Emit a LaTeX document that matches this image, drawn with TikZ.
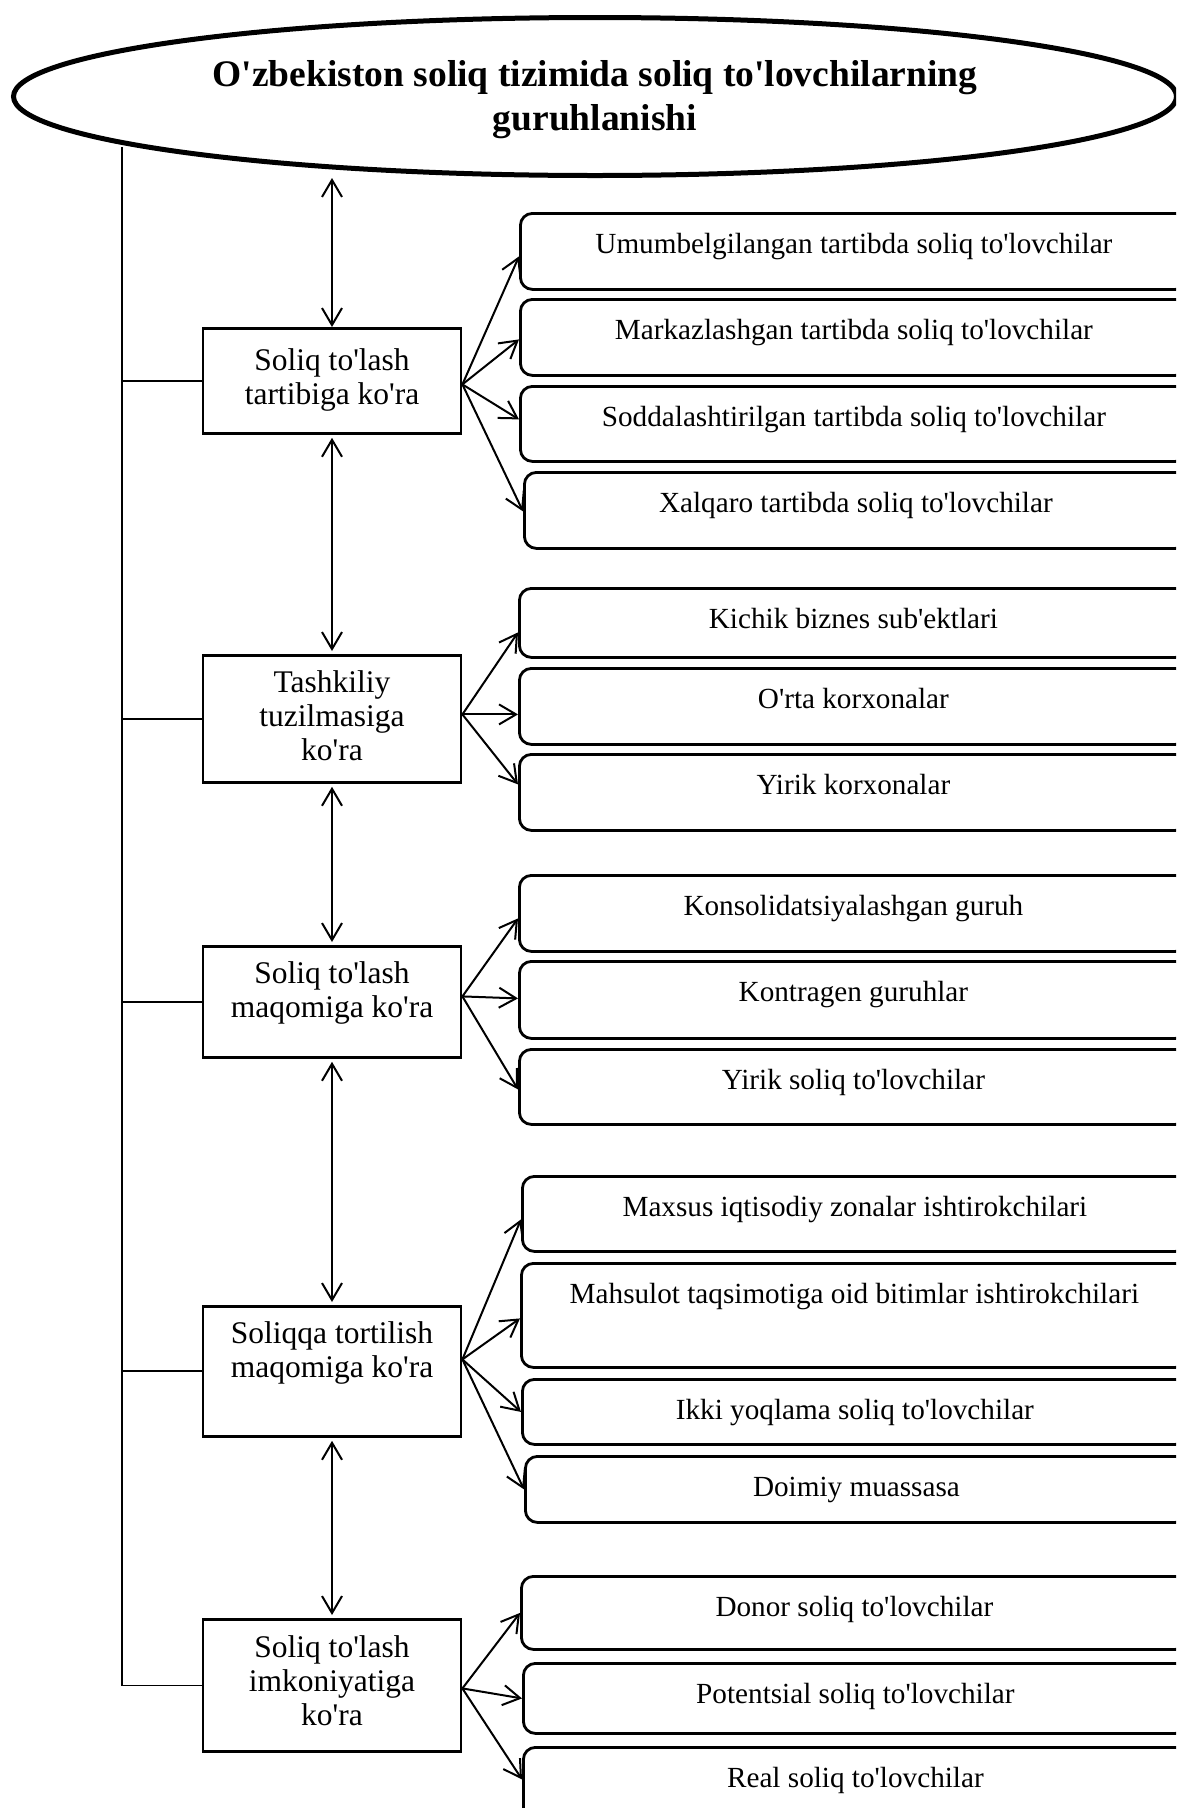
\documentclass[tikz,border=0pt]{standalone}
\usepackage{fontspec}
\setmainfont{Liberation Serif}[Ligatures=TeXOff]
\usetikzlibrary{arrows.meta,shapes.geometric}
\begin{document}
\begin{tikzpicture}[x=1pt,y=-1pt,
  conn/.style={line width=2pt,-{Straight Barb[length=17pt,width=20pt]}},
  dconn/.style={line width=2pt,{Straight Barb[length=17pt,width=20pt]}-{Straight Barb[length=17pt,width=20pt]}},
  mainbox/.style={draw,line width=2.8pt,anchor=north,minimum width=258pt,inner xsep=0pt,inner ysep=0pt,font=\fontsize{31.5}{34}\selectfont},
  subbox/.style={draw,line width=2.8pt,rounded corners=12pt,anchor=north west,inner xsep=0pt,inner ysep=0pt,font=\fontsize{29.2}{34}\selectfont,text height=40pt},
  trunk/.style={line width=1.6pt},
  branch/.style={line width=2pt}]
\useasboundingbox (0,0) rectangle (1176,1808);
\clip (0,0) rectangle (1176,1808);
\fill[white] (0,0) rectangle (1176,1808);

% title ellipse
\node[ellipse,draw,line width=5pt,minimum width=1163pt,minimum height=158pt,inner sep=0pt,
      font=\bfseries\fontsize{37.5}{44}\selectfont,text height=23pt,text depth=44pt] (e) at (595,96.5)
  {\parbox[t]{780pt}{\centering O'zbekiston soliq tizimida soliq to'lovchilarning\\guruhlanishi}};

% main category boxes
\node[mainbox,text height=42pt,text depth=63pt] (m1) at (332,327)
  {\parbox[t]{250pt}{\centering Soliq to'lash\\tartibiga ko'ra}};
\node[mainbox,text height=37pt,text depth=90pt] (m2) at (332,654)
  {\parbox[t]{250pt}{\centering Tashkiliy\\tuzilmasiga\\ko'ra}};
\node[mainbox,text height=37pt,text depth=74pt] (m3) at (332,945)
  {\parbox[t]{250pt}{\centering Soliq to'lash\\maqomiga ko'ra}};
\node[mainbox,text height=37pt,text depth=93pt] (m4) at (332,1305)
  {\parbox[t]{250pt}{\centering Soliqqa tortilish\\maqomiga ko'ra}};
\node[mainbox,text height=38pt,text depth=94pt] (m5) at (332,1618)
  {\parbox[t]{250pt}{\centering Soliq to'lash\\imkoniyatiga\\ko'ra}};

% sub boxes
\node[subbox,minimum width=667pt,text depth=36pt] (r11) at (519,212) {Umumbelgilangan tartibda soliq to'lovchilar};
\node[subbox,minimum width=667pt,text depth=36pt] (r12) at (519,298) {Markazlashgan tartibda soliq to'lovchilar};
\node[subbox,minimum width=667pt,text depth=35pt] (r13) at (519,385) {Soddalashtirilgan tartibda soliq to'lovchilar};
\node[subbox,minimum width=663pt,text depth=36pt] (r14) at (523,471) {Xalqaro tartibda soliq to'lovchilar};

\node[subbox,minimum width=668pt,text depth=29pt] (r21) at (518,587) {Kichik biznes sub'ektlari};
\node[subbox,minimum width=668pt,text depth=36pt] (r22) at (518,667) {O'rta korxonalar};
\node[subbox,minimum width=668pt,text depth=36pt] (r23) at (518,753) {Yirik korxonalar};

\node[subbox,minimum width=668pt,text depth=36pt] (r31) at (518,874) {Konsolidatsiyalashgan guruh};
\node[subbox,minimum width=668pt,text depth=37pt] (r32) at (518,960) {Kontragen guruhlar};
\node[subbox,minimum width=668pt,text depth=35pt] (r33) at (518,1048) {Yirik soliq to'lovchilar};

\node[subbox,minimum width=665pt,text depth=35pt] (r41) at (521,1175) {Maxsus iqtisodiy zonalar ishtirokchilari};
\node[subbox,minimum width=666pt,text depth=64pt] (r42) at (520,1262) {Mahsulot taqsimotiga oid bitimlar ishtirokchilari};
\node[subbox,minimum width=665pt,text depth=25pt] (r43) at (521,1378) {Ikki yoqlama soliq to'lovchilar};
\node[subbox,minimum width=662pt,text depth=26pt] (r44) at (524,1455) {Doimiy muassasa};

\node[subbox,minimum width=666pt,text depth=33pt] (r51) at (520,1575) {Donor soliq to'lovchilar};
\node[subbox,minimum width=664pt,text depth=30pt] (r52) at (522,1662) {Potentsial soliq to'lovchilar};
\node[subbox,minimum width=664pt,text depth=32pt] (r53) at (522,1746) {Real soliq to'lovchilar};

% left trunk line
\coordinate (lt) at (122,147);
\draw[trunk] (lt) |- (m5.west);
\foreach \m in {m1,m2,m3,m4} \draw[branch] (\m.west) -- (\m.west -| lt);

% vertical double arrows
\draw[dconn] (e.south -| m1.north) -- (m1.north);
\draw[dconn,shorten <=3pt,shorten >=3pt] (m1.south) -- (m2.north);
\draw[dconn,shorten <=3pt,shorten >=3pt] (m2.south) -- (m3.north);
\draw[dconn,shorten <=3pt,shorten >=3pt] (m3.south) -- (m4.north);
\draw[dconn,shorten <=3pt,shorten >=3pt] (m4.south) -- (m5.north);

% arrows to sub boxes
\draw[conn] ([yshift=-3.5pt]m1.east) -- ([yshift=-5pt]r11.west);
\draw[conn] ([yshift=-3.5pt]m1.east) -- ([yshift=-2pt]r12.west);
\draw[conn] ([yshift=-3.5pt]m1.east) -- ([yshift=4.5pt]r13.west);
\draw[conn] ([yshift=-3.5pt]m1.east) -- ([yshift=-1pt]r14.west);

\draw[conn] ([yshift=4.5pt]m2.east) -- ([yshift=-9.5pt]r21.west);
\draw[conn] ([yshift=4.5pt]m2.east) -- ([yshift=-8pt]r22.west);
\draw[conn] ([yshift=4.5pt]m2.east) -- ([yshift=8pt]r23.west);

\draw[conn] ([yshift=5.5pt]m3.east) -- ([yshift=-5pt]r31.west);
\draw[conn] ([yshift=5.5pt]m3.east) -- ([yshift=1.5pt]r32.west);
\draw[conn] ([yshift=5.5pt]m3.east) -- ([yshift=-2.5pt]r33.west);

\draw[conn] ([yshift=12pt]m4.east) -- ([yshift=-5.5pt]r41.west);
\draw[conn] ([yshift=12pt]m4.east) -- ([yshift=-3pt]r42.west);
\draw[conn] ([yshift=12pt]m4.east) -- (r43.west);
\draw[conn] ([yshift=12pt]m4.east) -- (r44.west);

\draw[conn] ([yshift=-3pt]m5.east) -- (r51.west);
\draw[conn] ([yshift=-3pt]m5.east) -- (r52.west);
\draw[conn] ([yshift=-3pt]m5.east) -- ([yshift=4pt]r53.west);
\end{tikzpicture}
\end{document}
